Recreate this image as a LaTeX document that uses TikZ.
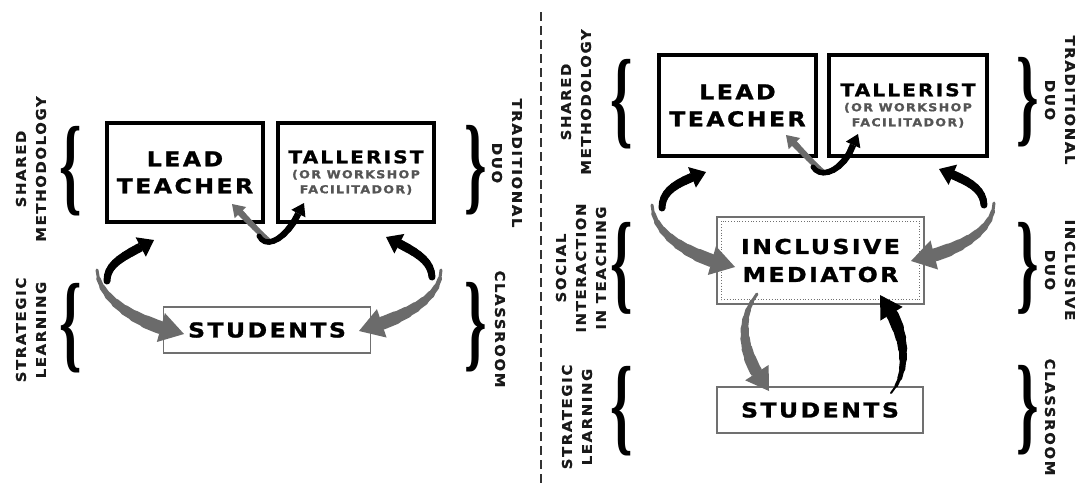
\documentclass[tikz,border=0pt]{standalone}
\usepackage{fontspec}
\usepackage{graphicx}
\usetikzlibrary{arrows.meta,calc}
\newfontfamily\boxfont{DejaVu Sans}[FakeStretch=1.15,LetterSpace=12,FakeBold=1.2]
\newfontfamily\lblfont{DejaVu Sans}[FakeStretch=1.1,LetterSpace=12,FakeBold=0.8]
\newfontfamily\bracefont{Liberation Serif}
\definecolor{agray}{HTML}{6B6B6B}
\definecolor{sgray}{HTML}{555555}
\definecolor{bgray}{HTML}{707070}
\newcommand\mylbrace[1]{\scalebox{1}[#1]{\bracefont\bfseries\fontsize{57}{57}\selectfont\{}}
\newcommand\myrbrace[1]{\scalebox{1}[#1]{\bracefont\bfseries\fontsize{57}{57}\selectfont\}}}
% tapered curved arrow: colour, start, control 1, control 2, end, tail width, body width, tip options
\newcommand\taparrow[8]{%
  \path #2 .. controls #3 and #4 .. #5
    coordinate[pos=0] (t0) coordinate[pos=0.1] (t1) coordinate[pos=0.2] (t2)
    coordinate[pos=0.3] (t3) coordinate[pos=0.4] (t4) coordinate[pos=0.5] (t5)
    coordinate[pos=0.6] (t6) coordinate[pos=0.7] (t7) coordinate[pos=0.8] (t8);
  \foreach \i in {0,...,7}{%
    \pgfmathsetmacro\w{#6+(#7-#6)*\i/7}%
    \pgfmathtruncatemacro\j{\i+1}%
    \draw[#1, line width=\w pt, line cap=round] (t\i) -- (t\j);
  }%
  \draw[#1, line width=#7pt, -{Triangle[#8,line width=0pt]}] (t8) -- #5;
}
\begin{document}
\begin{tikzpicture}[x=1pt,y=-1pt,
  bigbox/.style={draw=black, line width=3.5pt, minimum width=156pt, minimum height=99pt,
    inner sep=0pt, align=center, font=\boxfont\bfseries\fontsize{20.5}{27}\selectfont},
  tallbox/.style={bigbox, text=sgray, font=\boxfont\bfseries\fontsize{11}{15}\selectfont},
  stubox/.style={draw=bgray, line width=1.2pt, minimum width=207pt, minimum height=46pt,
    inner sep=0pt, font=\boxfont\bfseries\fontsize{20.5}{27}\selectfont},
  medbox/.style={draw=bgray, line width=1.4pt, minimum width=207pt, minimum height=87pt,
    inner sep=0pt, align=center, font=\boxfont\bfseries\fontsize{20.5}{28}\selectfont},
  lbl/.style={font=\lblfont\bfseries\fontsize{13.5}{20}\selectfont, align=center,
    inner sep=0pt, text=black!90},
  lblL/.style={lbl, rotate=90},
  lblR/.style={lbl, rotate=-90},
  brc/.style={inner sep=0pt}]
\useasboundingbox[fill=white] (0,0) rectangle (1081,485);

% ---------- left panel ----------
\node[bigbox] (leadA) at (185,172.5) {LEAD\\TEACHER};
\node[tallbox] (tallA) at (356,172.5) {{\fontsize{17.5}{15}\selectfont\color{black}TALLERIST}\\(OR WORKSHOP\\FACILITADOR)};
\node[stubox] (stuA) at (267,330) {STUDENTS};

\node[brc] (bA1) at (71,171) {\mylbrace{1.9}};
\node[brc] (bA2) at (71,328) {\mylbrace{1.9}};
\node[brc] (bA3) at (476,170) {\myrbrace{1.9}};
\node[brc] (bA4) at (476,327) {\myrbrace{1.9}};

\node[lblL] (lA1) at (31,169) {SHARED\\METHODOLOGY};
\node[lblL] (lA2) at (31,330) {STRATEGIC\\LEARNING};
\node[lblR] (lA3) at (507,163) {TRADITIONAL\\DUO};
\node[lblR] (lA4) at (500,329) {CLASSROOM};

\coordinate (a1s) at (107,281); \coordinate (a1e) at (154,240);
\coordinate (a2s) at (97,270);  \coordinate (a2e) at (184,334);
\coordinate (a3s) at (432,277); \coordinate (a3e) at (386,237);
\coordinate (a4s) at (441,270); \coordinate (a4e) at (359,331);
\coordinate (a5s) at (268,240); \coordinate (a5e) at (232,204);
\coordinate (a6s) at (259,236); \coordinate (a6e) at (304,203);

\taparrow{agray}{(a2s)}{(98,300)}{(140,325)}{(a2e)}{3}{13}{length=24pt,width=30pt}
\taparrow{black}{(a1s)}{(107,263)}{(124,256)}{(a1e)}{7}{9}{length=15pt,width=22pt}
\taparrow{agray}{(a4s)}{(441,300)}{(402,318)}{(a4e)}{3}{13}{length=24pt,width=30pt}
\taparrow{black}{(a3s)}{(431,259)}{(414,251)}{(a3e)}{7}{9}{length=15pt,width=22pt}
\taparrow{agray}{(a5s)}{(258,232)}{(244,216)}{(a5e)}{5}{6.5}{length=12pt,width=16pt}
\taparrow{black}{(a6s)}{(266,250)}{(288,240)}{(a6e)}{5}{6.5}{length=12pt,width=16pt}

% ---------- divider ----------
\coordinate (divT) at (541,12); \coordinate (divB) at (541,485);
\draw[line width=1.8pt, dash pattern=on 9pt off 5pt, black!80] (divT) -- (divB);

% ---------- right panel ----------
\node[bigbox, minimum width=157pt, minimum height=101pt] (leadB) at (737.5,105.5) {LEAD\\TEACHER};
\node[tallbox, minimum width=158pt, minimum height=101pt] (tallB) at (908,105.5) {{\fontsize{17.5}{15}\selectfont\color{black}TALLERIST}\\(OR WORKSHOP\\FACILITADOR)};
\node[medbox] (medB) at (820.5,260.5) {INCLUSIVE\\MEDIATOR};
\draw[bgray, line width=0.8pt, dotted] ($(medB.north west)+(5,5)$) rectangle ($(medB.south east)+(-5,-5)$);
\node[stubox, minimum width=206pt] (stuB) at (820,410) {STUDENTS};

\node[brc] (bB1) at (622,104) {\mylbrace{1.9}};
\node[brc] (bB2) at (622,268) {\mylbrace{1.95}};
\node[brc] (bB3) at (622,411) {\mylbrace{1.9}};
\node[brc] (bB4) at (1028,102) {\myrbrace{1.9}};
\node[brc] (bB5) at (1028,268) {\myrbrace{1.95}};
\node[brc] (bB6) at (1028,410) {\myrbrace{1.9}};

\node[lblL] (lB1) at (576,102) {SHARED\\METHODOLOGY};
\node[lblL] (lB2) at (581,268) {SOCIAL\\INTERACTION\\IN TEACHING};
\node[lblL] (lB3) at (577,417) {STRATEGIC\\LEARNING};
\node[lblR] (lB4) at (1060,100) {TRADITIONAL\\DUO};
\node[lblR] (lB5) at (1060,270) {INCLUSIVE\\DUO};
\node[lblR] (lB6) at (1050,417) {CLASSROOM};

\coordinate (b1s) at (662,208); \coordinate (b1e) at (706,172);
\coordinate (b2s) at (652,205); \coordinate (b2e) at (735,267);
\coordinate (b3s) at (984,205); \coordinate (b3e) at (939,169);
\coordinate (b4s) at (994,203); \coordinate (b4e) at (911,261);
\coordinate (b5s) at (822,171); \coordinate (b5e) at (786,135);
\coordinate (b6s) at (813,167); \coordinate (b6e) at (858,134);
\coordinate (b7s) at (757,294); \coordinate (b7e) at (769,391);
\coordinate (b8s) at (891,393); \coordinate (b8e) at (880,295);

\taparrow{agray}{(b2s)}{(653,235)}{(692,258)}{(b2e)}{3}{13}{length=24pt,width=30pt}
\taparrow{black}{(b1s)}{(662,190)}{(678,182)}{(b1e)}{7}{9}{length=15pt,width=22pt}
\taparrow{agray}{(b4s)}{(994,232)}{(956,252)}{(b4e)}{3}{13}{length=24pt,width=30pt}
\taparrow{black}{(b3s)}{(983,187)}{(966,180)}{(b3e)}{7}{9}{length=15pt,width=22pt}
\taparrow{agray}{(b5s)}{(812,163)}{(798,147)}{(b5e)}{5}{6.5}{length=12pt,width=16pt}
\taparrow{black}{(b6s)}{(820,179)}{(845,174)}{(b6e)}{5}{6.5}{length=12pt,width=16pt}
\taparrow{agray}{(b7s)}{(738,318)}{(740,355)}{(b7e)}{3}{12}{length=22pt,width=28pt}
\taparrow{black}{(b8s)}{(910,372)}{(907,330)}{(b8e)}{2}{12}{length=22pt,width=26pt}
\end{tikzpicture}
\end{document}
